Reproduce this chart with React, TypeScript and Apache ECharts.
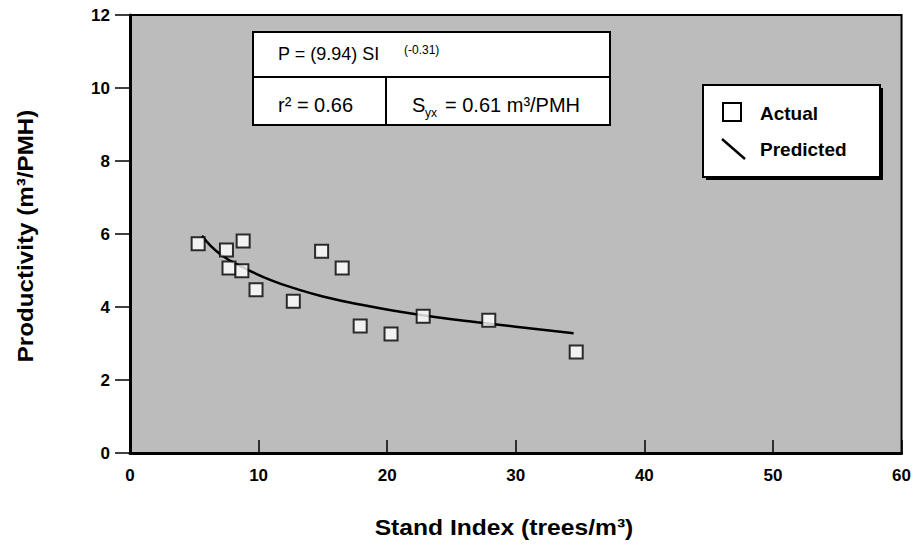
import React, { useEffect, useRef } from "react";
import * as echarts from "echarts";

const actualX = [5.3, 7.5, 8.8, 7.7, 8.7, 9.8, 12.7, 14.9, 16.5, 17.9, 20.3, 22.8, 27.9, 34.7];
const actualY = [5.73, 5.56, 5.81, 5.07, 4.99, 4.47, 4.16, 5.53, 5.07, 3.48, 3.26, 3.75, 3.64, 2.77];

const predX = [5.6, 7, 9, 11, 13, 15, 18, 21, 24, 27, 30, 34.5];
const predY = [5.95, 5.45, 5.05, 4.73, 4.49, 4.29, 4.06, 3.87, 3.71, 3.58, 3.46, 3.28];

const xTicks = [0, 10, 20, 30, 40, 50, 60];
const yTicks = [0, 2, 4, 6, 8, 10, 12];

const FONT = "'Liberation Sans', Arial, Helvetica, sans-serif";

export default function App() {
  const ref = useRef<HTMLDivElement>(null);
  useEffect(() => {
    if (!ref.current) return;
    const chart = echarts.init(ref.current, null, { renderer: "svg" });
    const actual = actualX.map((x, i) => [x, actualY[i]]);
    const pred = predX.map((x, i) => [x, predY[i]]);
    chart.setOption({
      animation: false,
      backgroundColor: "#ffffff",
      grid: {
        left: 130,
        top: 15,
        right: 12,
        bottom: 98,
        show: true,
        backgroundColor: "#bcbcbc",
        borderColor: "#000",
        borderWidth: 2,
      },
      xAxis: {
        type: "value",
        min: xTicks[0],
        max: xTicks[xTicks.length - 1],
        interval: 10,
        splitLine: { show: false },
        axisLine: { show: true, lineStyle: { color: "#000", width: 3 } },
        axisTick: { show: true, inside: true, length: 13, lineStyle: { color: "#000", width: 1.5 } },
        axisLabel: {
          margin: 14,
          color: "#000",
          fontFamily: FONT,
          fontWeight: "bold",
          fontSize: 17,
        },
      },
      yAxis: {
        type: "value",
        min: yTicks[0],
        max: yTicks[yTicks.length - 1],
        interval: 2,
        splitLine: { show: false },
        axisLine: { show: true, lineStyle: { color: "#000", width: 3 } },
        axisTick: { show: true, inside: false, length: 15, lineStyle: { color: "#000", width: 1.5 } },
        axisLabel: {
          margin: 20,
          color: "#000",
          fontFamily: FONT,
          fontWeight: "bold",
          fontSize: 17,
        },
      },
      series: [
        {
          name: "Predicted",
          type: "line",
          data: pred,
          smooth: true,
          showSymbol: false,
          lineStyle: { color: "#000", width: 2.5 },
          z: 2,
        },
        {
          name: "Actual",
          type: "scatter",
          data: actual,
          symbol: "rect",
          symbolSize: 13,
          itemStyle: { color: "#fff", borderColor: "#000", borderWidth: 2 },
          z: 3,
        },
      ],
      graphic: [
        {
          type: "text",
          x: 25,
          y: 236,
          rotation: Math.PI / 2,
          scaleX: 1.1,
          style: {
            text: "Productivity (m³/PMH)",
            fontFamily: FONT,
            fontWeight: "bold",
            fontSize: 22,
            fill: "#000",
            align: "center",
            verticalAlign: "middle",
          },
        },
        {
          type: "text",
          x: 504,
          y: 527,
          scaleX: 1.12,
          style: {
            text: "Stand Index (trees/m³)",
            fontFamily: FONT,
            fontWeight: "bold",
            fontSize: 22,
            fill: "#000",
            align: "center",
            verticalAlign: "middle",
          },
        },
        {
          type: "rect",
          shape: { x: 253, y: 32, width: 357, height: 93 },
          style: { fill: "#fff", stroke: "#000", lineWidth: 2 },
          z: 10,
        },
        {
          type: "line",
          shape: { x1: 253, y1: 77, x2: 610, y2: 77 },
          style: { stroke: "#000", lineWidth: 2 },
          z: 11,
        },
        {
          type: "line",
          shape: { x1: 386, y1: 77, x2: 386, y2: 125 },
          style: { stroke: "#000", lineWidth: 2 },
          z: 11,
        },
        {
          type: "text",
          x: 278,
          y: 54,
          z: 12,
          style: { text: "P = (9.94) SI", fontFamily: FONT, fontSize: 18, fill: "#000", verticalAlign: "middle" },
        },
        {
          type: "text",
          x: 404,
          y: 50,
          z: 12,
          style: { text: "(-0.31)", fontFamily: FONT, fontSize: 12, fill: "#000", verticalAlign: "middle" },
        },
        {
          type: "text",
          x: 278,
          y: 105,
          z: 12,
          style: { text: "r² = 0.66", fontFamily: FONT, fontSize: 20, fill: "#000", verticalAlign: "middle" },
        },
        {
          type: "text",
          x: 412,
          y: 105,
          z: 12,
          style: { text: "S", fontFamily: FONT, fontSize: 20, fill: "#000", verticalAlign: "middle" },
        },
        {
          type: "text",
          x: 425,
          y: 113,
          z: 12,
          style: { text: "yx", fontFamily: FONT, fontSize: 12, fill: "#000", verticalAlign: "middle" },
        },
        {
          type: "text",
          x: 445,
          y: 105,
          z: 12,
          style: { text: "= 0.61 m³/PMH", fontFamily: FONT, fontSize: 20, fill: "#000", verticalAlign: "middle" },
        },
        {
          type: "rect",
          shape: { x: 706, y: 88, width: 177, height: 92 },
          style: { fill: "#000" },
          z: 9,
        },
        {
          type: "rect",
          shape: { x: 703, y: 85, width: 177, height: 92 },
          style: { fill: "#fff", stroke: "#000", lineWidth: 2 },
          z: 10,
        },
        {
          type: "rect",
          shape: { x: 723, y: 103, width: 18, height: 18 },
          style: { fill: "#fff", stroke: "#000", lineWidth: 2 },
          z: 11,
        },
        {
          type: "line",
          shape: { x1: 722, y1: 139, x2: 745, y2: 159 },
          style: { stroke: "#000", lineWidth: 2.5 },
          z: 11,
        },
        {
          type: "text",
          x: 760,
          y: 113,
          z: 12,
          style: { text: "Actual", fontFamily: FONT, fontWeight: "bold", fontSize: 19, fill: "#000", verticalAlign: "middle" },
        },
        {
          type: "text",
          x: 760,
          y: 149,
          z: 12,
          style: { text: "Predicted", fontFamily: FONT, fontWeight: "bold", fontSize: 19, fill: "#000", verticalAlign: "middle" },
        },
      ],
    });
    return () => chart.dispose();
  }, []);
  return (
    <div
      ref={ref}
      style={{ position: "fixed", left: 0, top: 0, width: 914, height: 551 }}
    />
  );
}
